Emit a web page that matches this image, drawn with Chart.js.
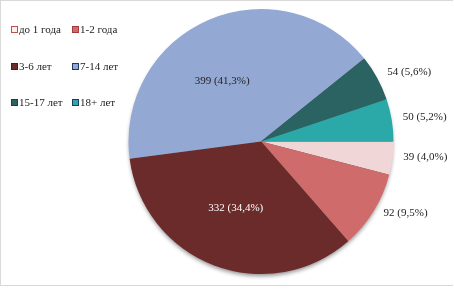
<!DOCTYPE html>
<html>
<head>
<meta charset="utf-8">
<script src="https://cdn.jsdelivr.net/npm/chart.js@4"></script>
<style>
  html, body { margin: 0; padding: 0; background: #fff; }
  #wrap { position: relative; width: 454px; height: 289px; }
  #frame { position: absolute; left: 0; top: 0; width: 453px; height: 286px;
           border-top: 1px solid #d9d9d9; border-left: 1px solid #d9d9d9; border-bottom: 1px solid #d9d9d9; box-sizing: border-box; }
  #legend { position: absolute; left: 0; top: 0; font-family: "Liberation Serif", serif; font-size: 11px; color: #222; }
  .item { position: absolute; white-space: nowrap; line-height: 12px; }
  .box { display: inline-block; width: 5px; height: 5px; border: 1px solid; margin-right: 1px; vertical-align: 0px; }
</style>
</head>
<body>
<div id="wrap">
  <canvas id="pie" width="454" height="289"></canvas>
  <div id="frame"></div>
  <div id="legend"></div>
</div>
<script>
const categories = ["до 1 года", "1-2 года", "3-6 лет", "7-14 лет", "15-17 лет", "18+ лет"];
const values = [39, 92, 332, 399, 54, 50];
const percentLabels = ["4,0%", "9,5%", "34,4%", "41,3%", "5,6%", "5,2%"];
const colors = ["#f0d6d6", "#cf6c6b", "#6b2b2a", "#93a9d3", "#2b6262", "#2aa9a8"];
const legendBorders = ["#c0504d", "#a33c3a", "#4a1c1c", "#1f3864", "#1f3864", "#1f3864"];

// legend (2 columns x 3 rows)
const legend = document.getElementById('legend');
const colX = [11, 72];
const rowY = [23, 60, 96];
categories.forEach((c, i) => {
    const d = document.createElement('div');
    d.className = 'item';
    d.style.left = colX[i % 2] + 'px';
    d.style.top = rowY[Math.floor(i / 2)] + 'px';
    const fill = i === 0 ? '#fbeeee' : colors[i];
    d.innerHTML = '<span class="box" style="background:' + fill + ';border-color:' + legendBorders[i] + '"></span>' + c;
    legend.appendChild(d);
});

// soft shadow under the pie (like the excel original)
const pieShadow = {
    id: 'pieShadow',
    beforeDatasetsDraw(chart) {
        const arc = chart.getDatasetMeta(0).data[0];
        if (!arc) return;
        const p = arc.getProps(['x', 'y', 'outerRadius']);
        const ctx = chart.ctx;
        ctx.save();
        ctx.shadowColor = 'rgba(0,0,0,0.45)';
        ctx.shadowBlur = 4;
        ctx.shadowOffsetY = 3;
        ctx.fillStyle = '#555';
        ctx.beginPath();
        ctx.arc(p.x, p.y, p.outerRadius - 1, 0, Math.PI * 2);
        ctx.fill();
        ctx.restore();
    }
};

const sliceLabels = {
    id: 'sliceLabels',
    afterDatasetsDraw(chart) {
        const ctx = chart.ctx;
        const meta = chart.getDatasetMeta(0);
        ctx.save();
        ctx.font = '11px "Liberation Serif", serif';
        ctx.textBaseline = 'middle';
        meta.data.forEach((arc, i) => {
            const p = arc.getProps(['x', 'y', 'startAngle', 'endAngle', 'outerRadius']);
            let mid = (p.startAngle + p.endAngle) / 2;
            const text = values[i] + ' (' + percentLabels[i] + ')';
            ctx.fillStyle = i === 2 ? '#ffffff' : '#222222';
            if (values[i] > 200) {
                if (i === 3) mid -= 0.17;
                const dist = p.outerRadius * 0.54;
                ctx.textAlign = 'center';
                ctx.fillText(text, p.x + Math.cos(mid) * dist, p.y + Math.sin(mid) * dist);
            } else {
                const dist = p.outerRadius + 8;
                ctx.textAlign = 'left';
                ctx.fillText(text, p.x + Math.cos(mid) * dist + 3, p.y + Math.sin(mid) * dist - 2);
            }
        });
        ctx.restore();
    }
};

new Chart(document.getElementById('pie'), {
    type: 'pie',
    data: {
        labels: categories,
        datasets: [{
            data: values,
            backgroundColor: colors,
            borderWidth: 0
        }]
    },
    options: {
        responsive: false,
        animation: false,
        rotation: 90,
        layout: { padding: { left: 128, right: 60, top: 9, bottom: 15 } },
        plugins: {
            legend: { display: false },
            tooltip: { enabled: false }
        }
    },
    plugins: [pieShadow, sliceLabels]
});
</script>
</body>
</html>
